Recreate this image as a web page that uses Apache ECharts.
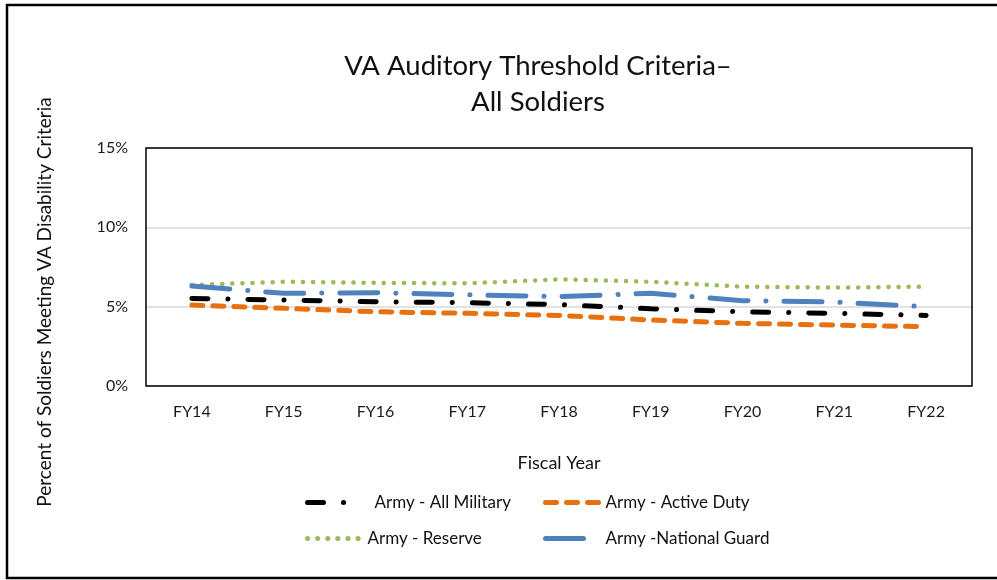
<!DOCTYPE html>
<html>
<head>
<meta charset="utf-8">
<script src="https://cdn.jsdelivr.net/npm/echarts@6/dist/echarts.min.js"></script>
<style>
  html, body { margin: 0; padding: 0; background: #fff; }
  #main { width: 997px; height: 580px; }
</style>
</head>
<body>
<div id="main"></div>
<script>
var years = ['FY14', 'FY15', 'FY16', 'FY17', 'FY18', 'FY19', 'FY20', 'FY21', 'FY22'];
var allMilitary = [5.52, 5.42, 5.31, 5.25, 5.13, 4.87, 4.68, 4.58, 4.45];
var activeDuty = [5.1, 4.9, 4.68, 4.58, 4.45, 4.16, 3.95, 3.84, 3.74];
var reserve = [6.36, 6.57, 6.5, 6.47, 6.72, 6.57, 6.26, 6.2, 6.26];
var nationalGuard = [6.3, 5.84, 5.88, 5.75, 5.63, 5.84, 5.38, 5.29, 5.0];

var font = 'Lato';
var myChart = echarts.init(document.getElementById('main'));

// one legend per item so each can sit where the original has it
function legendAt(name, left, top, textPad) {
    return {
        data: [name],
        left: left,
        top: top,
        itemWidth: 55,
        itemHeight: 14,
        selectedMode: false,
        itemStyle: { opacity: 0 },
        lineStyle: { width: 5, cap: 'round' },
        textStyle: { fontFamily: font, fontSize: 17, color: '#111', padding: [0, 0, 0, textPad] }
    };
}

var option = {
    backgroundColor: '#fff',
    animation: false,
    title: {
        text: 'VA Auditory Threshold Criteria–\nAll Soldiers',
        left: 533,
        top: 43,
        textAlign: 'center',
        textStyle: { fontFamily: font, fontSize: 27.5, fontWeight: 'normal', color: '#111', lineHeight: 36 }
    },
    legend: [
        legendAt('Army - All Military', 300, 489, 7),
        legendAt('Army - Active Duty', 538, 489, 0),
        legendAt('Army - Reserve', 300, 525, 0),
        legendAt('Army -National Guard', 538, 525, 0)
    ],
    grid: { left: 146, right: 25, top: 148, bottom: 194 },
    xAxis: {
        type: 'category',
        data: years,
        boundaryGap: true,
        name: 'Fiscal Year',
        nameLocation: 'middle',
        nameGap: 68,
        nameTextStyle: { fontFamily: font, fontSize: 18, color: '#111' },
        axisLine: { show: false },
        axisTick: { show: false },
        axisLabel: { fontFamily: font, fontSize: 16, color: '#1a1a1a', margin: 18 }
    },
    yAxis: {
        type: 'value',
        min: 0,
        max: 15,
        interval: 5,
        axisLine: { show: false },
        axisTick: { show: false },
        splitLine: { lineStyle: { color: '#d9d9d9', width: 1.5 } },
        axisLabel: { fontFamily: font, fontSize: 16, color: '#1a1a1a', margin: 18, formatter: '{value}%' }
    },
    graphic: [
        { type: 'rect', shape: { x: 146, y: 148, width: 826, height: 238 }, style: { fill: null, stroke: '#000', lineWidth: 1.5 }, z: 10 },
        { type: 'rect', shape: { x: 7, y: 5, width: 1010, height: 573 }, style: { fill: null, stroke: '#000', lineWidth: 2.5 }, z: 10 },
        {
            type: 'text', x: 45, y: 302, rotation: Math.PI / 2,
            style: {
                text: 'Percent of Soldiers Meeting VA Disability Criteria',
                fontFamily: font, fontSize: 19, fill: '#111',
                align: 'center', verticalAlign: 'middle'
            }
        }
    ],
    series: [
        {
            name: 'Army - All Military', type: 'line', data: allMilitary, symbol: 'none', z: 4,
            lineStyle: { color: '#000', width: 5, cap: 'round', type: [16, 20, 0.1, 20] },
            itemStyle: { color: '#000' }
        },
        {
            name: 'Army - Active Duty', type: 'line', data: activeDuty, symbol: 'none', z: 3,
            lineStyle: { color: '#e8700f', width: 5, cap: 'round', type: [11, 10] },
            itemStyle: { color: '#e8700f' }
        },
        {
            name: 'Army - Reserve', type: 'line', data: reserve, symbol: 'none', z: 2,
            lineStyle: { color: '#9bbb59', width: 4.5, cap: 'round', type: [0.1, 10] },
            itemStyle: { color: '#9bbb59' }
        },
        {
            name: 'Army -National Guard', type: 'line', data: nationalGuard, symbol: 'none', z: 2,
            lineStyle: { color: '#4f81bd', width: 5, cap: 'round', type: [38, 18, 0.1, 18] },
            itemStyle: { color: '#4f81bd' }
        }
    ]
};

myChart.setOption(option);
</script>
</body>
</html>
